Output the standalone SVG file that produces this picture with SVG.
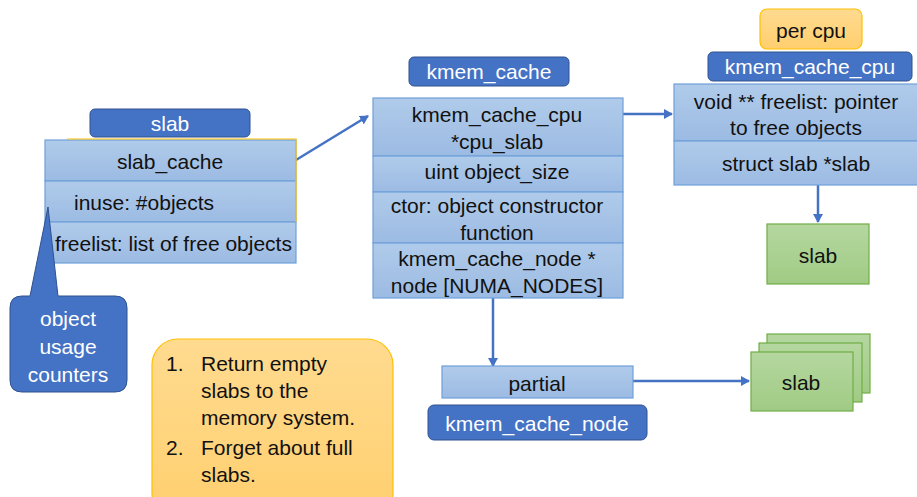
<svg xmlns="http://www.w3.org/2000/svg" width="917" height="497" viewBox="0 0 917 497">
<defs>
<linearGradient id="gb" x1="0" y1="0" x2="0" y2="1"><stop offset="0" stop-color="#B0CBEA"/><stop offset="1" stop-color="#9CBBE3"/></linearGradient>
<linearGradient id="gg" x1="0" y1="0" x2="0" y2="1"><stop offset="0" stop-color="#B5D7A0"/><stop offset="1" stop-color="#A0CB84"/></linearGradient>
<linearGradient id="go" x1="0" y1="0" x2="0" y2="1"><stop offset="0" stop-color="#FFDB90"/><stop offset="1" stop-color="#FFCF6E"/></linearGradient>
<marker id="ah" markerWidth="10" markerHeight="10" refX="8" refY="5" orient="auto" markerUnits="userSpaceOnUse"><path d="M0,0 L9,5 L0,10 Z" fill="#4472C4"/></marker>
<style>
.row{fill:url(#gb);stroke:#6FA0DA;stroke-width:1.2}
.lbl{fill:#4472C4;stroke:#2F528F;stroke-width:1}
.grn{fill:url(#gg);stroke:#70AD47;stroke-width:1.2}
.org{fill:url(#go);stroke:#FFC000;stroke-width:1.2}
text{font-family:"Liberation Sans",Arial,sans-serif;font-size:21px;fill:#111}
.c{text-anchor:middle}
.w{fill:#fff}
.con{stroke:#4472C4;stroke-width:2.5;fill:none}
</style>
</defs>
<g id="connectors">
<line class="con" x1="296" y1="160" x2="368" y2="116" marker-end="url(#ah)"/>
<line class="con" x1="623" y1="114" x2="672" y2="114" marker-end="url(#ah)"/>
<line class="con" x1="818" y1="185" x2="818" y2="222" marker-end="url(#ah)"/>
<line class="con" x1="493" y1="298" x2="493" y2="366" marker-end="url(#ah)"/>
<line class="con" x1="633" y1="381" x2="749" y2="381" marker-end="url(#ah)"/>
</g>
<g id="slab">
<rect class="lbl" x="90" y="109" width="160" height="28" rx="5"/>
<text class="c w" x="170" y="131">slab</text>
<rect class="row" x="45" y="140" width="251" height="41"/>
<rect class="row" x="45" y="181" width="251" height="41"/>
<rect class="row" x="45" y="222" width="251" height="41"/>
<polyline points="67,139 296,139 296,222" fill="none" stroke="#FFC000" stroke-width="1.2"/>
<text class="c" x="170" y="169">slab_cache</text>
<text x="74" y="210">inuse: #objects</text>
<text x="55" y="251">freelist: list of free objects</text>
</g>
<g id="callout">
<path class="lbl" d="M48,207 L58,296 L115,296 Q127,296 127,308 L127,380 Q127,392 115,392 L22,392 Q10,392 10,380 L10,308 Q10,296 22,296 L30,296 Z"/>
<text class="c w" x="68" y="326">object</text>
<text class="c w" x="68" y="354">usage</text>
<text class="c w" x="68" y="382">counters</text>
</g>
<g id="kmem_cache">
<rect class="lbl" x="409" y="57" width="160" height="29" rx="5"/>
<text class="c w" x="489" y="79">kmem_cache</text>
<rect class="row" x="373" y="98" width="250" height="58"/>
<rect class="row" x="373" y="156" width="250" height="36"/>
<rect class="row" x="373" y="192" width="250" height="51"/>
<rect class="row" x="373" y="243" width="250" height="55"/>
<text class="c" x="497" y="122">kmem_cache_cpu</text>
<text class="c" x="497" y="149">*cpu_slab</text>
<text class="c" x="497" y="179">uint object_size</text>
<text class="c" x="497" y="213">ctor: object constructor</text>
<text class="c" x="497" y="240">function</text>
<text class="c" x="497" y="266">kmem_cache_node *</text>
<text class="c" x="497" y="293">node [NUMA_NODES]</text>
</g>
<g id="kmem_cache_cpu">
<rect class="org" x="760" y="9" width="102" height="40" rx="7"/>
<text class="c" x="811" y="38">per cpu</text>
<rect class="lbl" x="708" y="52" width="204" height="29" rx="5"/>
<text class="c w" x="810" y="74">kmem_cache_cpu</text>
<rect class="row" x="674" y="84" width="246" height="57"/>
<rect class="row" x="674" y="141" width="246" height="44"/>
<text class="c" x="796" y="109">void ** freelist: pointer</text>
<text class="c" x="796" y="135">to free objects</text>
<text class="c" x="796" y="171">struct slab *slab</text>
</g>
<g id="slab_cpu">
<rect class="grn" x="767" y="224" width="102" height="60"/>
<text class="c" x="818" y="263">slab</text>
</g>
<g id="kmem_cache_node">
<rect class="row" x="442" y="366" width="191" height="32"/>
<text class="c" x="537" y="391">partial</text>
<rect class="lbl" x="428" y="405" width="219" height="35" rx="6"/>
<text class="c w" x="537" y="431">kmem_cache_node</text>
</g>
<g id="slabs_partial">
<rect class="grn" x="767" y="334" width="103" height="59"/>
<rect class="grn" x="759" y="343" width="103" height="59"/>
<rect class="grn" x="751" y="352" width="102" height="59"/>
<text class="c" x="801" y="390">slab</text>
</g>
<g id="note">
<rect class="org" x="152" y="339" width="241" height="180" rx="26"/>
<text x="166" y="371">1.</text>
<text x="201" y="371">Return empty</text>
<text x="201" y="398">slabs to the</text>
<text x="201" y="425">memory system.</text>
<text x="166" y="455">2.</text>
<text x="201" y="455">Forget about full</text>
<text x="201" y="482">slabs.</text>
</g>
</svg>
